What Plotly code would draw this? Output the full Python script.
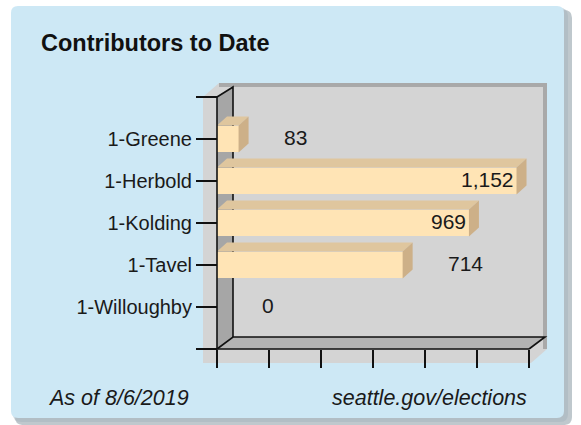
import plotly.graph_objects as go

# ---------------- data ----------------
categories = ["1-Greene", "1-Herbold", "1-Kolding", "1-Tavel", "1-Willoughby"]
contributors = [83, 1152, 969, 714, 0]
value_labels = ["83", "1,152", "969", "714", "0"]
x_tick_values = [0, 200, 400, 600, 800, 1000, 1200]
title_text = "Contributors to Date"
footer_left = "As of 8/6/2019"
footer_right = "seattle.gov/elections"

# label placement style (inside the bar or to its right)
label_inside = [False, True, True, False, False]

# ---------------- geometry (pixels) ----------------
W, H = 581, 425
X0_PX, X1_PX = 217, 529          # pixel of x=0 and x=1200
XMAX = 1200
YTOP_PX, ROW_PX = 97, 42          # pixel of index -1, pixels per category
UX = XMAX / (X1_PX - X0_PX)


def X(px):
    return (px - X0_PX) * UX


def Y(py):
    return -1 + (py - YTOP_PX) / ROW_PX


def path(points):
    return "M " + " L ".join(f"{X(a):.3f},{Y(b):.3f}" for a, b in points) + " Z"


def line_path(points):
    return "M " + " L ".join(f"{X(a):.3f},{Y(b):.3f}" for a, b in points)


def rounded_rect(x0, y0, x1, y1, r):
    P = lambda a, b: f"{X(a):.3f},{Y(b):.3f}"
    return (f"M {P(x0 + r, y0)} L {P(x1 - r, y0)} Q {P(x1, y0)} {P(x1, y0 + r)} "
            f"L {P(x1, y1 - r)} Q {P(x1, y1)} {P(x1 - r, y1)} "
            f"L {P(x0 + r, y1)} Q {P(x0, y1)} {P(x0, y1 - r)} "
            f"L {P(x0, y0 + r)} Q {P(x0, y0)} {P(x0 + r, y0)} Z")


FONT = "Arial, Liberation Sans, sans-serif"
PANEL = "#cde8f5"
BAR_FRONT = "#ffe4b5"
BAR_TOP = "#dfc69e"
BAR_SIDE = "#cdb088"
TEXT = "#1a1a1a"

fig = go.Figure()

# ---------------- decorative panel and 3D box ----------------
shapes = []
shapes.append(dict(type="path", path=rounded_rect(15, 10, 572, 425, 8),
                   fillcolor="#bfc8cd", line=dict(width=0), layer="below"))
shapes.append(dict(type="path", path=rounded_rect(13, 8, 568, 422, 8),
                   fillcolor="#aab8c0", line=dict(width=0), layer="below", opacity=0.6))
shapes.append(dict(type="path", path=rounded_rect(11, 6, 564, 418, 7),
                   fillcolor=PANEL, line=dict(width=0), layer="below"))
# box silhouette
shapes.append(dict(type="path",
                   path=path([(203, 97), (219, 83), (547, 83), (547, 349), (531, 363), (203, 363)]),
                   fillcolor="#d4d4d4", line=dict(width=0), layer="below"))
shapes.append(dict(type="path", path=line_path([(219, 85), (545, 85), (545, 349)]),
                   line=dict(color="#a9a9a9", width=4), layer="below"))
# left wall
shapes.append(dict(type="path", path=path([(217, 97), (233, 87), (233, 337), (217, 349)]),
                   fillcolor="#a6a6a6", line=dict(width=0), layer="below"))
# floor
shapes.append(dict(type="path", path=path([(217, 349), (233, 337), (545, 337), (529, 349)]),
                   fillcolor="#b3b3b3", line=dict(width=0), layer="below"))
# edges
for pts in [
    [(217, 97), (233, 87), (233, 337)],
    [(217, 349), (233, 337), (545, 337), (529, 349)],
    [(217, 349), (529, 349)],
]:
    shapes.append(dict(type="path", path=line_path(pts),
                       line=dict(color="#111111", width=1.6), layer="below"))
shapes.append(dict(type="path", path=line_path([(217, 97), (217, 349)]),
                   line=dict(color="#111111", width=1.6), layer="above"))
for s in shapes:
    s.setdefault("xref", "x")
    s.setdefault("yref", "y")

# ---------------- bars ----------------
idx = list(range(len(categories)))
HALF = 0.32
DDX = 10 * UX
DDY = 9 / ROW_PX

fig.add_trace(go.Bar(x=contributors, y=idx, orientation="h", width=2 * HALF,
                     marker=dict(color=BAR_FRONT, line=dict(width=0)),
                     hoverinfo="skip", showlegend=False))

for i, v in zip(idx, contributors):
    if v <= 0:
        continue
    top_y = i - HALF
    bot_y = i + HALF
    fig.add_trace(go.Scatter(
        x=[0, v, v + DDX, DDX, 0],
        y=[top_y, top_y, top_y - DDY, top_y - DDY, top_y],
        fill="toself", mode="lines", fillcolor=BAR_TOP,
        line=dict(width=0, color=BAR_TOP), hoverinfo="skip", showlegend=False))
    fig.add_trace(go.Scatter(
        x=[v, v + DDX, v + DDX, v, v],
        y=[top_y, top_y - DDY, bot_y - DDY, bot_y, top_y],
        fill="toself", mode="lines", fillcolor=BAR_SIDE,
        line=dict(width=0, color=BAR_SIDE), hoverinfo="skip", showlegend=False))

# ---------------- value labels ----------------
annotations = []
for i, v, lab, inside in zip(idx, contributors, value_labels, label_inside):
    annotations.append(dict(
        x=v, y=i, xref="x", yref="y", text=lab, showarrow=False,
        xanchor="right" if inside else "left",
        xshift=-1 if inside else 43, yshift=2,
        font=dict(family=FONT, size=21, color=TEXT)))

annotations.append(dict(x=39 / W, y=1 - 43 / H, xref="paper", yref="paper",
                        text=f"<b>{title_text}</b>", showarrow=False,
                        xanchor="left", yanchor="middle",
                        font=dict(family=FONT, size=23.5, color="#111111")))
annotations.append(dict(x=46 / W, y=1 - 398 / H, xref="paper", yref="paper",
                        text=f"<i>{footer_left}</i>", showarrow=False,
                        xanchor="left", yanchor="middle",
                        font=dict(family=FONT, size=21.5, color=TEXT)))
annotations.append(dict(x=529 / W, y=1 - 398 / H, xref="paper", yref="paper",
                        text=f"<i>{footer_right}</i>", showarrow=False,
                        xanchor="right", yanchor="middle",
                        font=dict(family=FONT, size=21.5, color=TEXT)))

fig.update_layout(
    width=W, height=H, autosize=False,
    margin=dict(l=0, r=0, t=0, b=0, pad=0),
    paper_bgcolor="white", plot_bgcolor="rgba(0,0,0,0)",
    showlegend=False, bargap=0,
    shapes=shapes, annotations=annotations,
    xaxis=dict(range=[X(0), X(W)], anchor="free", position=1 - 349 / H,
               showgrid=False, zeroline=False, showline=False,
               tickmode="array", tickvals=x_tick_values, showticklabels=False,
               ticks="outside", ticklen=18, tickwidth=1.6, tickcolor="#111111",
               fixedrange=True),
    yaxis=dict(range=[Y(H), Y(0)], anchor="free", position=X0_PX / W,
               showgrid=False, zeroline=False, showline=False,
               tickmode="array",
               tickvals=[-1] + idx + [len(categories)],
               ticktext=[""] + categories + [""],
               ticks="outside", ticklen=21, tickwidth=1.6, tickcolor="#111111",
               ticklabelstandoff=0,
               tickfont=dict(family=FONT, size=20, color=TEXT),
               fixedrange=True),
)

fig.write_html("out.html", config={"displayModeBar": False},
               post_script="document.body.style.margin='0';document.body.style.overflow='hidden';")
